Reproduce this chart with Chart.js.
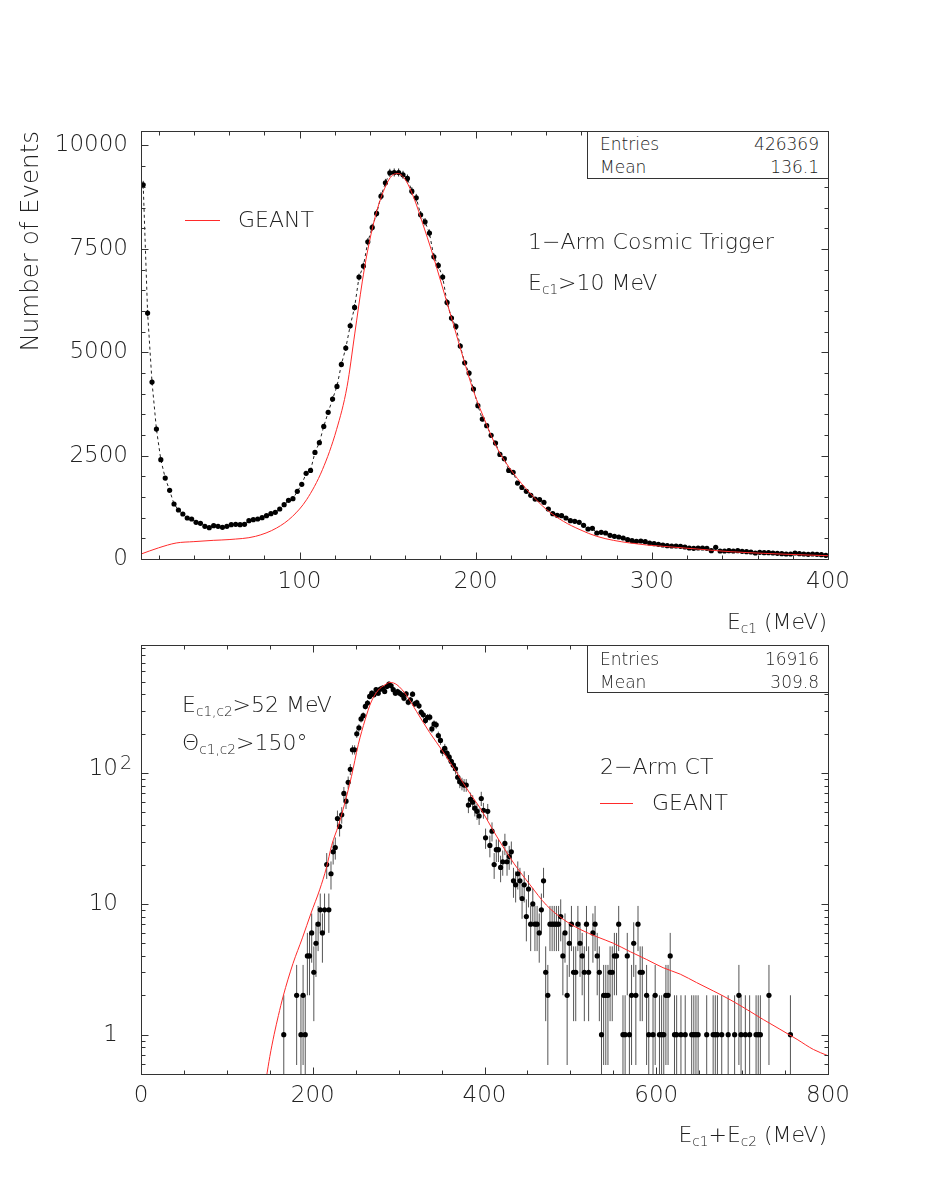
<!DOCTYPE html>
<html><head><meta charset="utf-8">
<script src="https://cdn.jsdelivr.net/npm/chart.js@4.4.1/dist/chart.umd.min.js"></script>
<style>
html,body{margin:0;padding:0;background:#fff;}
#wrap{position:relative;width:926px;height:1199px;overflow:hidden;background:#fff;font-family:'DejaVu Sans',sans-serif;font-weight:200;color:#222;}
canvas{position:absolute;left:0;}
#c1{top:0;} #c2{top:600px;}
.t{position:absolute;white-space:nowrap;line-height:1;font-size:22px;}
.s{font-size:0.62em;position:relative;top:0.32em;}
.box{position:absolute;border:1px solid #333;background:#fff;box-sizing:border-box;}
.row{position:absolute;font-size:17px;line-height:1;white-space:nowrap;}
.leg{position:absolute;height:1px;background:#ff2a2a;}
</style></head><body>
<div id="wrap">
<canvas id="c1" width="926" height="600"></canvas>
<canvas id="c2" width="926" height="599"></canvas>

<div class="leg" style="left:185px;top:220px;width:35px;"></div>
<div class="t" style="left:238px;top:209px;">GEANT</div>
<div class="t" style="left:528px;top:231px;">1−Arm Cosmic Trigger</div>
<div class="t" style="left:528px;top:272px;">E<span class="s">c1</span>&gt;10 MeV</div>
<div class="box" style="left:587px;top:131px;width:242px;height:48px;">
  <div class="row" style="left:12px;top:4px;">Entries</div>
  <div class="row" style="right:9px;top:4px;">426369</div>
  <div class="row" style="left:12px;top:27px;">Mean</div>
  <div class="row" style="right:9px;top:27px;">136.1</div>
</div>
<div class="t" style="right:99px;top:611px;">E<span class="s">c1</span> (MeV)</div>

<div class="t" style="left:182px;top:694px;">E<span class="s">c1,c2</span>&gt;52 MeV</div>
<div class="t" style="left:182px;top:732px;">Θ<span class="s">c1,c2</span>&gt;150°</div>
<div class="t" style="left:600px;top:756px;">2−Arm CT</div>
<div class="leg" style="left:600px;top:803px;width:33px;"></div>
<div class="t" style="left:652px;top:792px;">GEANT</div>
<div class="box" style="left:587px;top:645px;width:242px;height:48px;">
  <div class="row" style="left:12px;top:5px;">Entries</div>
  <div class="row" style="right:9px;top:5px;">16916</div>
  <div class="row" style="left:12px;top:28px;">Mean</div>
  <div class="row" style="right:9px;top:28px;">309.8</div>
</div>
<div class="t" style="right:99px;top:1124px;">E<span class="s">c1</span>+E<span class="s">c2</span> (MeV)</div>
</div>

<script>
// ===== Top panel: 1-Arm cosmic trigger, E_c1 (2.5 MeV bins) =====
const topBinCenters = [
 11.25,13.75,16.25,18.75,21.25,23.75,26.25,28.75,31.25,33.75,
 36.25,38.75,41.25,43.75,46.25,48.75,51.25,53.75,56.25,58.75,
 61.25,63.75,66.25,68.75,71.25,73.75,76.25,78.75,81.25,83.75,
 86.25,88.75,91.25,93.75,96.25,98.75,101.25,103.75,106.25,108.75,
 111.25,113.75,116.25,118.75,121.25,123.75,126.25,128.75,131.25,133.75,
 136.25,138.75,141.25,143.75,146.25,148.75,151.25,153.75,156.25,158.75,
 161.25,163.75,166.25,168.75,171.25,173.75,176.25,178.75,181.25,183.75,
 186.25,188.75,191.25,193.75,196.25,198.75,201.25,203.75,206.25,208.75,
 211.25,213.75,216.25,218.75,221.25,223.75,226.25,228.75,231.25,233.75,
 236.25,238.75,241.25,243.75,246.25,248.75,251.25,253.75,256.25,258.75,
 261.25,263.75,266.25,268.75,271.25,273.75,276.25,278.75,281.25,283.75,
 286.25,288.75,291.25,293.75,296.25,298.75,301.25,303.75,306.25,308.75,
 311.25,313.75,316.25,318.75,321.25,323.75,326.25,328.75,331.25,333.75,
 336.25,338.75,341.25,343.75,346.25,348.75,351.25,353.75,356.25,358.75,
 361.25,363.75,366.25,368.75,371.25,373.75,376.25,378.75,381.25,383.75,
 386.25,388.75,391.25,393.75,396.25,398.75];
const topCounts = [
 9049,5947,4279,3143,2401,1958,1660,1330,1185,1088,
 991,967,886,862,790,757,806,790,766,790,
 830,838,830,838,927,951,967,999,1048,1096,
 1128,1209,1313,1418,1458,1636,1805,2071,2143,2578,
 2812,3207,3546,3868,4174,4706,5101,5641,6084,6817,
 7083,7671,8018,8356,8775,9097,9339,9347,9347,9291,
 9202,8896,8735,8324,8155,7881,7309,7099,6817,6205,
 5826,5625,5149,4746,4496,4110,3707,3384,3223,2990,
 2804,2530,2425,2143,2095,1837,1732,1636,1539,1450,
 1434,1370,1209,1096,1056,1048,991,927,911,886,
 814,725,741,629,645,629,572,548,532,508,
 467,443,427,435,419,387,371,355,338,322,
 314,314,306,290,266,258,266,266,258,201,
 282,193,193,201,193,201,185,177,169,145,
 161,153,153,145,137,129,121,121,145,129,
 121,113,121,113,105,89];
const topGeantX = [10,20,30,40,51,60,75,87,96,104,113,121,127,131.4,135.6,138.4,142.8,147.5,153,156,160.4,165.2,170,175,180.6,187.3,193,198.6,206.2,211.9,221.3,230.8,240.3,249.8,259.2,268.7,278.2,287.6,297.1,306.6,325.5,344.5,363.4,382.3,400];
const topGeantY = [120,270,387,420,451,470,548,750,1031,1434,2160,3127,4174,5463,6700,7400,8250,8880,9291,9320,9150,8700,8100,7450,6650,5680,4850,4080,3250,2700,2079,1595,1193,911,709,548,451,387,338,306,242,177,137,105,80];
const topXMajor = [100,200,300,400];
const topXMinor = [20,40,60,80,120,140,160,180,220,240,260,280,320,340,360,380];
const topYMajor = [0,2500,5000,7500,10000];
const topYMinor = [500,1000,1500,2000,3000,3500,4000,4500,5500,6000,6500,7000,8000,8500,9000,9500];

// ===== Bottom panel: 2-Arm CT, E_c1+E_c2 (2.5 MeV bins, non-empty only) =====
const botBinCenters = [
 166.25,181.25,186.25,188.75,191.25,193.75,196.25,198.75,201.25,203.75,
 206.25,208.75,211.25,213.75,216.25,218.75,221.25,223.75,226.25,228.75,
 231.25,233.75,236.25,238.75,241.25,243.75,246.25,248.75,251.25,253.75,
 256.25,258.75,261.25,263.75,266.25,268.75,271.25,273.75,276.25,278.75,
 281.25,283.75,286.25,288.75,291.25,293.75,296.25,298.75,301.25,303.75,
 306.25,308.75,311.25,313.75,316.25,318.75,321.25,323.75,326.25,328.75,
 331.25,333.75,336.25,338.75,341.25,343.75,346.25,348.75,351.25,353.75,
 356.25,358.75,361.25,363.75,366.25,368.75,371.25,373.75,376.25,378.75,
 381.25,383.75,386.25,388.75,391.25,393.75,396.25,398.75,401.25,403.75,
 406.25,408.75,411.25,413.75,416.25,418.75,421.25,423.75,426.25,428.75,
 431.25,433.75,436.25,438.75,441.25,443.75,446.25,448.75,451.25,453.75,
 456.25,458.75,461.25,463.75,466.25,468.75,471.25,473.75,476.25,478.75,
 481.25,483.75,486.25,488.75,491.25,493.75,496.25,498.75,501.25,503.75,
 506.25,508.75,511.25,513.75,516.25,518.75,521.25,526.25,528.75,531.25,
 533.75,536.25,538.75,541.25,543.75,546.25,548.75,551.25,553.75,556.25,
 561.25,563.75,566.25,568.75,571.25,573.75,576.25,578.75,581.25,583.75,
 588.75,591.25,596.25,598.75,603.75,606.25,608.75,611.25,613.75,616.25,
 621.25,623.75,628.75,633.75,641.25,643.75,646.25,648.75,658.75,666.25,
 668.75,671.25,676.25,683.75,691.25,696.25,698.75,703.75,708.75,716.25,
 718.75,721.25,731.25,756.25];
const botCounts = [
 1,2,1,2,1,4,4,6,3,5,
 7,9,6,9,20,9,17,25,27,45,
 39,48,70,61,85,107,151,151,200,222,
 260,275,324,344,386,409,398,435,409,439,
 447,422,460,480,466,435,409,421,409,397,
 374,404,349,364,402,339,347,327,292,279,
 253,267,268,218,238,234,194,178,147,155,
 142,133,123,115,108,93,86,83,81,81,
 57,63,60,54,51,47,64,52,32,51,
 28,36,20,26,26,19,21,29,21,23,
 25,15,14,17,15,11,14,8,13,7,
 10,7,7,6,9,15,3,2,7,7,
 7,7,7,8,4,6,2,5,7,3,
 3,7,5,4,3,7,3,6,7,4,
 3,1,2,2,2,3,3,4,4,7,
 1,1,4,1,2,5,2,7,3,3,
 2,1,1,2,1,1,1,2,2,4,
 1,1,1,1,1,1,1,1,1,1,
 1,1,1,1,1,2,1,1,1,1,
 1,1,2,1];
const botGeantX = [146,150,155,160,165.5,177,188,198,208,216,222,230,237,245,253,261,268,276,284,290,298,309,321,336,352,368,383,395,414,434,453,472,492,511,531,550,570,589,608,628,647,667,686,706,725,744,764,783,800];
const botGeantY = [0.47,0.68,1.0,1.4,1.96,3.5,5.5,8.5,12.8,19,28,40,58,94,165,256,350,429,473,494,474,395,295,205,145,100,70,54,33,20.5,14,9.8,7.6,6.4,5.6,5.0,4.3,3.75,3.25,2.9,2.5,2.15,1.85,1.55,1.3,1.1,0.92,0.77,0.69];
const botXMajor = [0,200,400,600,800];
const botXMinor = [50,100,150,250,300,350,450,500,550,650,700,750];
const botYMajor = [1,10,100];
const botYMinor = [0.6,0.7,0.8,0.9,2,3,4,5,6,7,8,9,20,30,40,50,60,70,80,90,200,300,400,500,600,700,800,900];
const botYLabelBase = ['1','10','10'];
const botYLabelExp = ['','','2'];

// ===== helpers / plugins =====
const FONT = 'DejaVu Sans';
const pairs = (xs, ys) => xs.map((x, i) => ({x, y: ys[i]}));

const frameTicks = {
  id: 'frameTicks',
  afterDatasetsDraw(chart, args, o) {
    const {ctx, chartArea: a, scales} = chart;
    const xs = scales.x, ys = scales.y;
    ctx.save();
    ctx.strokeStyle = '#333'; ctx.lineWidth = 1;
    const L = Math.round(a.left) + 0.5, R = Math.round(a.right) + 0.5, T = Math.round(a.top) + 0.5, B = Math.round(a.bottom) + 0.5;
    ctx.strokeRect(L, T, R - L, B - T);
    ctx.beginPath();
    const vx = (v, len) => { const p = Math.round(xs.getPixelForValue(v)) + 0.5; ctx.moveTo(p, B); ctx.lineTo(p, B - len); ctx.moveTo(p, T); ctx.lineTo(p, T + len); };
    const vy = (v, len) => { const p = Math.round(ys.getPixelForValue(v)) + 0.5; ctx.moveTo(L, p); ctx.lineTo(L + len, p); ctx.moveTo(R, p); ctx.lineTo(R - len, p); };
    o.xMajor.forEach(v => vx(v, 7)); o.xMinor.forEach(v => vx(v, 4));
    o.yMajor.forEach(v => vy(v, 7)); o.yMinor.forEach(v => vy(v, 4));
    ctx.stroke(); ctx.restore();
  }
};

const errorBars = {
  id: 'errorBars',
  beforeDatasetsDraw(chart, args, o) {
    const {ctx, chartArea: a, scales: {x, y}} = chart;
    ctx.save();
    ctx.beginPath(); ctx.rect(a.left, a.top, a.right - a.left, a.bottom - a.top); ctx.clip();
    ctx.strokeStyle = o.color; ctx.lineWidth = 1;
    chart.data.datasets.forEach(ds => {
      if (!ds.poissonErrors) return;
      ds.data.forEach(pt => {
        const e = Math.sqrt(pt.y);
        const px = x.getPixelForValue(pt.x);
        const lo = (pt.y - e) > 0 ? y.getPixelForValue(pt.y - e) : a.bottom + 2;
        const hi = y.getPixelForValue(pt.y + e);
        ctx.beginPath(); ctx.moveTo(px, lo); ctx.lineTo(px, hi); ctx.stroke();
      });
    });
    ctx.restore();
  }
};

const logLabels = {
  id: 'logLabels',
  afterDraw(chart, args, o) {
    const {ctx, scales: {y}} = chart;
    ctx.save();
    ctx.fillStyle = '#222'; ctx.textBaseline = 'middle';
    botYMajor.forEach((v, i) => {
      const p = y.getPixelForValue(v);
      const exp = botYLabelExp[i];
      ctx.font = `200 23px "${FONT}"`; ctx.textAlign = 'right';
      ctx.fillText(botYLabelBase[i], 118, exp ? p - 4 : p);
      if (exp) {
        ctx.font = `200 19px "${FONT}"`; ctx.textAlign = 'left';
        ctx.fillText(exp, 120, p - 9);
      }
    });
    ctx.restore();
  }
};

Chart.defaults.font.family = FONT;
Chart.defaults.font.weight = '200';
Chart.defaults.color = '#222';

// ===== Top chart =====
new Chart(document.getElementById('c1'), {
  type: 'scatter',
  data: { datasets: [
    { label: 'GEANT', data: pairs(topGeantX, topGeantY), showLine: true, borderColor: '#ff2a2a', borderWidth: 1,
      pointRadius: 0, cubicInterpolationMode: 'monotone', order: 0 },
    { label: 'Data', data: pairs(topBinCenters, topCounts), showLine: true, borderColor: '#222', borderWidth: 1,
      borderDash: [3, 3], pointRadius: 2.6, pointBackgroundColor: '#000', pointBorderWidth: 0, poissonErrors: true, order: 1 }
  ]},
  options: {
    responsive: false, animation: false, events: [],
    layout: { padding: { left: 0, right: 98, top: 131, bottom: 0 } },
    plugins: { legend: { display: false }, tooltip: { enabled: false },
      frameTicks: { xMajor: topXMajor, xMinor: topXMinor, yMajor: topYMajor, yMinor: topYMinor },
      errorBars: { color: '#222' } },
    scales: {
      x: { type: 'linear', min: 10, max: 400, grid: { display: false, drawTicks: false }, border: { display: false },
        afterFit: s => { s.height = 41; },
        afterBuildTicks: s => { s.ticks = topXMajor.map(v => ({ value: v })); },
        ticks: { padding: 9, maxRotation: 0, font: { size: 23, weight: '200' }, callback: v => String(v) } },
      y: { type: 'linear', min: 0, max: 10350, grid: { display: false, drawTicks: false }, border: { display: false },
        afterFit: s => { s.width = 141; },
        afterBuildTicks: s => { s.ticks = topYMajor.map(v => ({ value: v })); },
        ticks: { padding: 13, font: { size: 23, weight: '200' }, callback: v => String(v) },
        title: { display: true, text: 'Number of Events', align: 'end', padding: { top: 17, bottom: 0 }, font: { size: 24.5, weight: '200' } } }
    }
  },
  plugins: [frameTicks, errorBars]
});

// ===== Bottom chart =====
new Chart(document.getElementById('c2'), {
  type: 'scatter',
  data: { datasets: [
    { label: 'GEANT', data: pairs(botGeantX, botGeantY), showLine: true, borderColor: '#ff2a2a', borderWidth: 1,
      pointRadius: 0, cubicInterpolationMode: 'monotone', order: 0 },
    { label: 'Data', data: pairs(botBinCenters, botCounts), showLine: false,
      pointRadius: 2.6, pointBackgroundColor: '#000', pointBorderWidth: 0, poissonErrors: true, order: 1 }
  ]},
  options: {
    responsive: false, animation: false, events: [],
    layout: { padding: { left: 0, right: 98, top: 45, bottom: 0 } },
    plugins: { legend: { display: false }, tooltip: { enabled: false },
      frameTicks: { xMajor: botXMajor, xMinor: botXMinor, yMajor: botYMajor, yMinor: botYMinor },
      errorBars: { color: '#555' } },
    scales: {
      x: { type: 'linear', min: 0, max: 800, grid: { display: false, drawTicks: false }, border: { display: false },
        afterFit: s => { s.height = 125; },
        afterBuildTicks: s => { s.ticks = botXMajor.map(v => ({ value: v })); },
        ticks: { padding: 8, maxRotation: 0, font: { size: 23, weight: '200' }, callback: v => String(v) } },
      y: { type: 'logarithmic', min: 0.5, max: 955, grid: { display: false, drawTicks: false }, border: { display: false },
        afterFit: s => { s.width = 141; },
        ticks: { display: false } }
    }
  },
  plugins: [frameTicks, errorBars, logLabels]
});
</script>
</body></html>
